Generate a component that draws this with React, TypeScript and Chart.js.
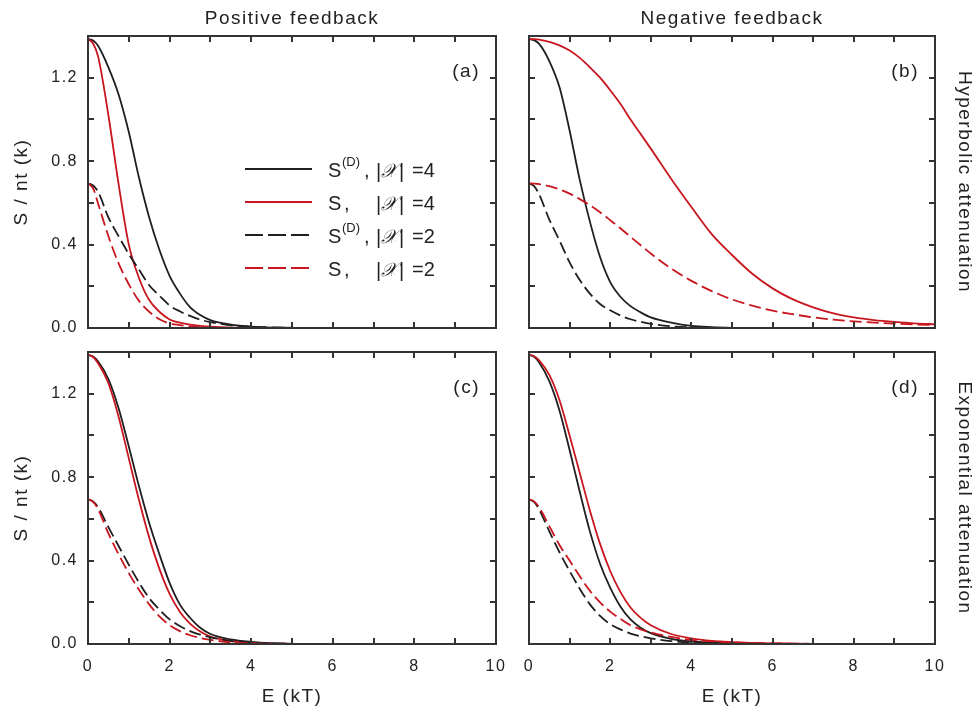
import React, { useEffect, useRef } from 'react';
import { Chart, registerables } from 'chart.js';
Chart.register(...registerables);

// ---------- data ----------
const E_VALUES = [0, 0.125, 0.25, 0.5, 0.75, 1, 1.25, 1.5, 1.75, 2, 2.25, 2.5, 2.75, 3, 3.5, 4, 4.5, 5, 5.5, 6, 6.5, 7, 7.5, 8, 8.5, 9, 9.5, 10];

// (a) positive feedback, hyperbolic attenuation
const A_SD4 = [1.386, 1.378, 1.352, 1.25, 1.12, 0.94, 0.72, 0.53, 0.375, 0.25, 0.166, 0.1, 0.062, 0.038, 0.016, 0.006, 0.002, 0.001, 0, 0, 0, 0, 0, 0, 0, 0, 0, 0];
const A_S4 = [1.386, 1.364, 1.3, 1.02, 0.69, 0.4, 0.24, 0.134, 0.078, 0.041, 0.026, 0.016, 0.01, 0.006, 0.002, 0.001, 0, 0, 0, 0, 0, 0, 0, 0, 0, 0, 0, 0];
const A_SD2 = [0.693, 0.683, 0.652, 0.53, 0.44, 0.355, 0.28, 0.205, 0.155, 0.108, 0.08, 0.058, 0.04, 0.028, 0.013, 0.006, 0.003, 0.001, 0, 0, 0, 0, 0, 0, 0, 0, 0, 0];
const A_S2 = [0.693, 0.67, 0.595, 0.44, 0.31, 0.21, 0.13, 0.078, 0.042, 0.022, 0.014, 0.008, 0.004, 0.002, 0.001, 0, 0, 0, 0, 0, 0, 0, 0, 0, 0, 0, 0, 0];

// (b) negative feedback, hyperbolic attenuation
const B_SD4 = [1.386, 1.38, 1.362, 1.28, 1.155, 0.947, 0.71, 0.51, 0.34, 0.22, 0.15, 0.105, 0.075, 0.051, 0.026, 0.01, 0.004, 0.001, 0, 0, 0, 0, 0, 0, 0, 0, 0, 0];
const B_S4 = [1.386, 1.385, 1.383, 1.372, 1.355, 1.33, 1.295, 1.25, 1.2, 1.14, 1.075, 1.0, 0.93, 0.86, 0.716, 0.58, 0.45, 0.35, 0.26, 0.19, 0.137, 0.099, 0.07, 0.051, 0.038, 0.029, 0.022, 0.018];
const B_SD2 = [0.693, 0.68, 0.64, 0.52, 0.42, 0.315, 0.23, 0.165, 0.115, 0.085, 0.06, 0.042, 0.03, 0.02, 0.008, 0.003, 0.001, 0, 0, 0, 0, 0, 0, 0, 0, 0, 0, 0];
const B_S2 = [0.693, 0.692, 0.69, 0.68, 0.665, 0.644, 0.618, 0.589, 0.555, 0.517, 0.478, 0.437, 0.397, 0.357, 0.285, 0.226, 0.177, 0.137, 0.107, 0.083, 0.066, 0.051, 0.04, 0.032, 0.026, 0.021, 0.017, 0.014];

// (c) positive feedback, exponential attenuation
const C_SD4 = [1.386, 1.378, 1.354, 1.27, 1.13, 0.947, 0.756, 0.58, 0.43, 0.293, 0.19, 0.126, 0.078, 0.048, 0.022, 0.01, 0.004, 0.001, 0, 0, 0, 0, 0, 0, 0, 0, 0, 0];
const C_S4 = [1.386, 1.376, 1.345, 1.25, 1.09, 0.89, 0.69, 0.51, 0.36, 0.24, 0.155, 0.098, 0.06, 0.036, 0.014, 0.005, 0.002, 0.001, 0, 0, 0, 0, 0, 0, 0, 0, 0, 0];
const C_SD2 = [0.693, 0.684, 0.655, 0.56, 0.47, 0.38, 0.295, 0.22, 0.165, 0.118, 0.086, 0.062, 0.045, 0.032, 0.015, 0.007, 0.003, 0.001, 0, 0, 0, 0, 0, 0, 0, 0, 0, 0];
const C_S2 = [0.693, 0.681, 0.645, 0.53, 0.43, 0.34, 0.26, 0.19, 0.132, 0.09, 0.062, 0.042, 0.029, 0.02, 0.008, 0.003, 0.001, 0, 0, 0, 0, 0, 0, 0, 0, 0, 0, 0];

// (d) negative feedback, exponential attenuation
const D_SD4 = [1.386, 1.377, 1.35, 1.26, 1.12, 0.93, 0.73, 0.54, 0.385, 0.27, 0.18, 0.118, 0.078, 0.052, 0.025, 0.012, 0.006, 0.003, 0.002, 0.001, 0, 0, 0, 0, 0, 0, 0, 0];
const D_S4 = [1.386, 1.38, 1.36, 1.29, 1.17, 1.0, 0.82, 0.64, 0.48, 0.35, 0.25, 0.175, 0.125, 0.09, 0.048, 0.027, 0.015, 0.009, 0.005, 0.003, 0.002, 0.001, 0, 0, 0, 0, 0, 0];
const D_SD2 = [0.693, 0.681, 0.645, 0.54, 0.44, 0.35, 0.265, 0.19, 0.135, 0.095, 0.07, 0.05, 0.037, 0.027, 0.014, 0.007, 0.004, 0.002, 0.001, 0, 0, 0, 0, 0, 0, 0, 0, 0];
const D_S2 = [0.693, 0.684, 0.655, 0.565, 0.475, 0.4, 0.325, 0.255, 0.2, 0.155, 0.12, 0.09, 0.07, 0.055, 0.034, 0.02, 0.013, 0.008, 0.005, 0.003, 0.002, 0.001, 0, 0, 0, 0, 0, 0];

const X_TICKS = [0, 2, 4, 6, 8, 10];
const X_MINOR = [1, 3, 5, 7, 9];
const Y_TICKS = [0, 0.4, 0.8, 1.2];
const Y_MINOR = [0.2, 0.6, 1.0];

const COL_TITLES = ['Positive feedback', 'Negative feedback'];
const ROW_TITLES = ['Hyperbolic attenuation', 'Exponential attenuation'];
const PANEL_LABELS = ['(a)', '(b)', '(c)', '(d)'];

// ---------- style ----------
const BLACK = '#1f1f1f';
const RED = '#c8161e';
const TEXT = '#222222';
const FRAME = '#333333';
const FAMILY = '"Liberation Sans", Arial, sans-serif';
const DASH = [12, 5];

type PanelCfg = {
  idx: number;
  x: number; y: number; w: number; h: number;
  pad: { left: number; top: number; right: number; bottom: number };
  series: number[][];
  showY: boolean; showX: boolean;
  colTitle?: string; rowTitle?: string;
  legend: boolean;
};

const toXY = (vals: number[]) => E_VALUES.map((e, i) => ({ x: e, y: vals[i] }));

const zeroPad = (s: any) => { s.paddingLeft = 0; s.paddingRight = 0; s.paddingTop = 0; s.paddingBottom = 0; };

const framePlugin = (cfg: PanelCfg) => ({
  id: 'frame' + cfg.idx,
  beforeLayout(chart: any) { chart.ctx.letterSpacing = '1.5px'; },
  beforeDraw(chart: any) { chart.ctx.letterSpacing = '1.5px'; },
  afterDatasetsDraw(chart: any) {
    const ctx = chart.ctx as CanvasRenderingContext2D;
    const ca = chart.chartArea;
    const xs = chart.scales.x, ys = chart.scales.y;
    ctx.save();
    ctx.setLineDash([]);
    ctx.strokeStyle = FRAME;
    ctx.lineWidth = 2;
    ctx.strokeRect(ca.left, ca.top, ca.right - ca.left, ca.bottom - ca.top);
    const TL = 6;
    ctx.beginPath();
    [...X_TICKS, ...X_MINOR].forEach((v) => {
      const px = Math.round(xs.getPixelForValue(v));
      ctx.moveTo(px, ca.bottom); ctx.lineTo(px, ca.bottom - TL);
      ctx.moveTo(px, ca.top); ctx.lineTo(px, ca.top + TL);
    });
    [...Y_TICKS, ...Y_MINOR].forEach((v) => {
      const py = Math.round(ys.getPixelForValue(v));
      ctx.moveTo(ca.left, py); ctx.lineTo(ca.left + TL, py);
      ctx.moveTo(ca.right, py); ctx.lineTo(ca.right - TL, py);
    });
    ctx.stroke();

    // panel label
    ctx.fillStyle = TEXT;
    ctx.font = `19px ${FAMILY}`;
    (ctx as any).letterSpacing = '1.5px';
    ctx.textAlign = 'right';
    ctx.textBaseline = 'middle';
    ctx.fillText(PANEL_LABELS[cfg.idx], ca.right - 16, ca.top + 36);

    if (cfg.legend) {
      const rows = [
        { dash: [] as number[], color: BLACK, sup: true, n: '4' },
        { dash: [] as number[], color: RED, sup: false, n: '4' },
        { dash: [18, 5], color: BLACK, sup: true, n: '2' },
        { dash: [18, 5], color: RED, sup: false, n: '2' },
      ];
      const L = ca.left, T = ca.top;
      (ctx as any).letterSpacing = '0px';
      ctx.textAlign = 'left';
      ctx.textBaseline = 'alphabetic';
      rows.forEach((r, i) => {
        const y = T + 133 + 33 * i;
        ctx.strokeStyle = r.color;
        ctx.lineWidth = 2;
        ctx.setLineDash(r.dash);
        ctx.beginPath();
        ctx.moveTo(L + 157, y); ctx.lineTo(L + 224, y);
        ctx.stroke();
        ctx.setLineDash([]);
        ctx.fillStyle = TEXT;
        ctx.font = `20px ${FAMILY}`;
        ctx.fillText('S', L + 240, y + 8);
        if (r.sup) {
          ctx.font = `13px ${FAMILY}`;
          ctx.fillText('(D)', L + 254, y - 3);
          ctx.font = `20px ${FAMILY}`;
          ctx.fillText(',', L + 276, y + 8);
        } else {
          ctx.fillText(',', L + 256, y + 8);
        }
        ctx.fillText('|', L + 288, y + 9);
        ctx.font = `italic 19px "DejaVu Serif", "Liberation Serif", serif`;
        ctx.fillText('\u{1D4B3}', L + 293, y + 8);
        ctx.font = `20px ${FAMILY}`;
        ctx.fillText('|', L + 311, y + 9);
        ctx.fillText('=' + r.n, L + 324, y + 8);
      });
    }
    ctx.restore();
  },
});

function buildConfig(cfg: PanelCfg): any {
  const tickFont = { family: FAMILY, size: 16 };
  const titleFont = { family: FAMILY, size: 19 };
  const [sd4, s4, sd2, s2] = cfg.series;
  const base = { pointRadius: 0, borderWidth: 1.8, fill: false, cubicInterpolationMode: 'monotone' as const };
  const datasets = [
    { ...base, label: 'S, |X|=2', data: toXY(s2), borderColor: RED, borderDash: DASH },
    { ...base, label: 'S(D), |X|=2', data: toXY(sd2), borderColor: BLACK, borderDash: DASH },
    { ...base, label: 'S, |X|=4', data: toXY(s4), borderColor: RED },
    { ...base, label: 'S(D), |X|=4', data: toXY(sd4), borderColor: BLACK },
  ];
  const scales: any = {
    x: {
      type: 'linear', position: 'bottom', min: 0, max: 10, display: cfg.showX,
      afterBuildTicks: (s: any) => { s.ticks = X_TICKS.map((v) => ({ value: v })); },
      afterFit: (s: any) => { if (cfg.showX) s.height = 67; zeroPad(s); },
      grid: { display: false, drawTicks: false },
      border: { display: false },
      ticks: { padding: 13, font: tickFont, color: TEXT, maxRotation: 0, autoSkip: false, callback: (v: any) => String(v) },
      title: { display: true, text: 'E (kT)', font: titleFont, color: TEXT, padding: { top: 0, bottom: 3 } },
    },
    y: {
      type: 'linear', position: 'left', min: 0, max: 1.4, display: cfg.showY,
      afterBuildTicks: (s: any) => { s.ticks = Y_TICKS.map((v) => ({ value: v })); },
      afterFit: (s: any) => { if (cfg.showY) s.width = 88; zeroPad(s); },
      grid: { display: false, drawTicks: false },
      border: { display: false },
      ticks: { padding: 10, font: tickFont, color: TEXT, autoSkip: false, callback: (v: any) => Number(v).toFixed(1) },
      title: { display: true, text: 'S / nt (k)', font: titleFont, color: TEXT, padding: { top: 10, bottom: 0 } },
    },
  };
  if (cfg.colTitle) {
    scales.xTop = {
      type: 'linear', position: 'top', min: 0, max: 10, display: true,
      afterFit: (s: any) => { s.height = 36; zeroPad(s); },
      grid: { display: false, drawTicks: false },
      border: { display: false },
      ticks: { display: false },
      title: { display: true, text: cfg.colTitle, font: titleFont, color: TEXT, padding: { top: 7, bottom: 0 } },
    };
  }
  if (cfg.rowTitle) {
    scales.yRight = {
      type: 'linear', position: 'right', min: 0, max: 1.4, display: true,
      afterFit: (s: any) => { s.width = 41; zeroPad(s); },
      grid: { display: false, drawTicks: false },
      border: { display: false },
      ticks: { display: false },
      title: { display: true, text: cfg.rowTitle, font: titleFont, color: TEXT, padding: { top: 0, bottom: 0 } },
    };
  }
  return {
    type: 'line',
    data: { datasets },
    options: {
      responsive: false,
      animation: false,
      devicePixelRatio: 1,
      layout: { padding: cfg.pad },
      plugins: { legend: { display: false }, tooltip: { enabled: false }, title: { display: false } },
      scales,
    },
    plugins: [framePlugin(cfg)],
  };
}

const PANELS: PanelCfg[] = [
  { idx: 0, x: 0, y: 0, w: 510, h: 340, pad: { left: 0, top: 0, right: 14, bottom: 12 }, series: [A_SD4, A_S4, A_SD2, A_S2], showY: true, showX: false, colTitle: COL_TITLES[0], legend: true },
  { idx: 1, x: 510, y: 0, w: 466, h: 340, pad: { left: 19, top: 0, right: 0, bottom: 12 }, series: [B_SD4, B_S4, B_SD2, B_S2], showY: false, showX: false, colTitle: COL_TITLES[1], rowTitle: ROW_TITLES[0], legend: false },
  { idx: 2, x: 0, y: 340, w: 510, h: 371, pad: { left: 0, top: 12, right: 14, bottom: 0 }, series: [C_SD4, C_S4, C_SD2, C_S2], showY: true, showX: true, legend: false },
  { idx: 3, x: 510, y: 340, w: 466, h: 371, pad: { left: 19, top: 12, right: 0, bottom: 0 }, series: [D_SD4, D_S4, D_SD2, D_S2], showY: false, showX: true, rowTitle: ROW_TITLES[1], legend: false },
];

function Panel({ cfg }: { cfg: PanelCfg }) {
  const ref = useRef<HTMLCanvasElement>(null);
  useEffect(() => {
    const chart = new Chart(ref.current as HTMLCanvasElement, buildConfig(cfg));
    return () => chart.destroy();
  }, [cfg]);
  return (
    <canvas
      ref={ref}
      width={cfg.w}
      height={cfg.h}
      style={{ position: 'absolute', left: cfg.x, top: cfg.y, width: cfg.w, height: cfg.h, display: 'block' }}
    />
  );
}

export default function App() {
  return (
    <div style={{ position: 'absolute', left: 0, top: 0, width: 976, height: 711, background: '#ffffff', overflow: 'hidden' }}>
      {PANELS.map((p) => (
        <Panel key={p.idx} cfg={p} />
      ))}
    </div>
  );
}
